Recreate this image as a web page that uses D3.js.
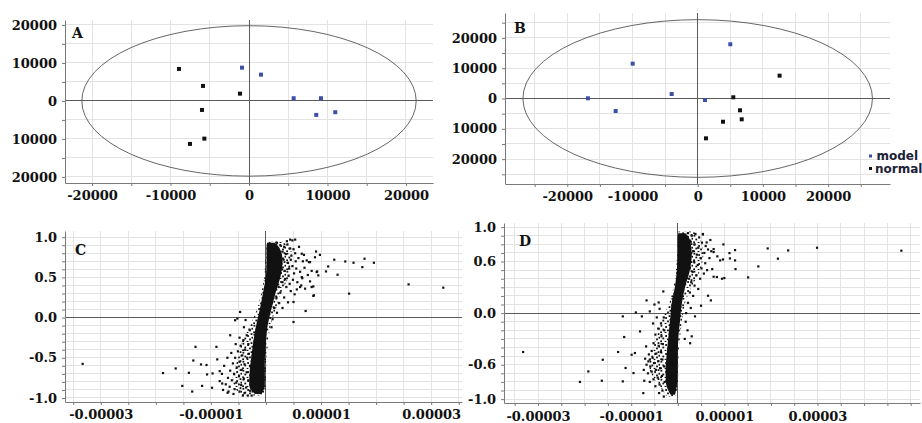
<!DOCTYPE html>
<html>
<head>
<meta charset="utf-8">
<script src="https://cdn.jsdelivr.net/npm/d3@7"></script>
<style>
  body { margin: 0; background: #fff; }
  svg { display: block; }
  .axis text { font-family: "DejaVu Serif", serif; font-weight: bold; font-size: 13px; fill: #111; }
  .axis path, .axis line { stroke: #7a7a7a; }
  .letter { font-family: "DejaVu Serif", serif; font-weight: bold; font-size: 14px; fill: #111; }
  .legend { font-family: "DejaVu Sans", sans-serif; font-weight: bold; font-size: 12px; fill: #1c2238; }
</style>
</head>
<body>
<svg id="svg" width="922" height="423"></svg>
<script>
const modelColor = '#3b50a6';
const normalColor = '#111';
const gridColor = '#e3e3e3';
const zeroColor = '#5a5a5a';
const ellipseColor = '#555';

// ---- score plots (A, B) ----
const scoreTicks = [-20000, -10000, 0, 10000, 20000];
const scoreXLabels = ['-20000', '-10000', '0', '10000', '20000'];
const scoreYLabels = ['20000', '10000', '0', '10000', '20000'];

const aModelX = [-890, 1530, 5690, 9170, 8570, 10990];
const aModelY = [8760, 6920, 710, 710, -3680, -2970];
const aNormalX = [-8920, -5860, -1150, -5990, -5690, -7520];
const aNormalY = [8420, 3950, 1920, -2370, -9920, -11320];
const aEllipse = [21300, 19800];

const bModelX = [-16830, -12580, -9970, -3990, 1120, 5000];
const bModelY = [70, -4130, 11490, 1490, -500, 17890];
const bNormalX = [12560, 5460, 6490, 6750, 3880, 1270];
const bNormalY = [7530, 400, -3890, -6870, -7660, -13140];
const bEllipse = [26800, 26000];

const legendLabels = ['model', 'normal'];

// ---- loading S-plots (C, D), x in units of 1e-6 ----
const xUnit = 1e-6;
const sXTicks = [-3e-5, -1e-5, 1e-5, 3e-5];
const sXLabels = ['-0.00003', '-0.00001', '0.00001', '0.00003'];
const cYTicks = [-1, -0.5, 0, 0.5, 1];
const cYLabels = ['-1.0', '-0.5', '0.0', '0.5', '1.0'];
const dYTicks = [-1, -0.6, 0, 0.6, 1];
const dYLabels = ['-1.0', '-0.6', '0.0', '0.6', '1.0'];

// solid core of the cloud: p(corr) level, left and right edge
const cCoreY = [0.93, 0.86, 0.73, 0.53, 0.32, 0.11, -0.10, -0.30, -0.51, -0.72, -0.88, -0.95];
const cCoreL = [0.2, 0.1, 0.1, 0.0, -0.5, -1.1, -1.8, -2.3, -2.7, -3.0, -2.9, -2.0];
const cCoreR = [1.6, 2.5, 3.0, 2.7, 1.8, 1.0, 0.3, 0.0, -0.2, -0.2, -0.3, -0.8];
// looser fringe around it
const cHaloY = [0.95, 0.85, 0.73, 0.52, 0.32, 0.11, -0.10, -0.30, -0.51, -0.72, -0.88, -0.97];
const cHaloL = [0.1, 0.0, -0.1, -0.3, -0.8, -1.6, -2.9, -4.4, -5.1, -6.0, -5.6, -4.2];
const cHaloR = [3.0, 4.5, 4.6, 4.2, 2.8, 1.8, 0.8, 0.4, 0.1, 0.0, -0.1, -0.6];

const dCoreY = [0.93, 0.88, 0.70, 0.50, 0.31, 0.12, -0.08, -0.27, -0.46, -0.66, -0.85, -0.95];
const dCoreL = [0.1, 0.0, 0.0, -0.2, -0.6, -1.3, -1.65, -2.0, -2.35, -2.6, -2.4, -1.5];
const dCoreR = [1.6, 2.4, 3.0, 2.6, 1.6, 0.9, 0.5, 0.15, 0.0, -0.05, -0.2, -0.6];
const dHaloY = [0.95, 0.85, 0.70, 0.50, 0.31, 0.12, -0.08, -0.27, -0.46, -0.66, -0.85, -0.97];
const dHaloL = [0.1, 0.0, -0.1, -0.4, -0.9, -1.8, -3.4, -4.5, -5.6, -6.0, -3.8, -2.4];
const dHaloR = [3.5, 4.8, 5.5, 4.8, 3.0, 1.6, 1.0, 0.5, 0.2, 0.1, 0.0, -0.5];

const cPoints = [
  [-33.3,-0.576],[-18.7,-0.69],[-16.4,-0.633],[-15.2,-0.85],[-14.0,-0.687],[-13.4,-0.92],
  [-13.2,-0.534],[-12.8,-0.364],[-11.8,-0.583],[-11.6,-0.85],[-10.8,-0.59],[-10.7,-0.707],
  [-9.8,-0.873],[-9.7,-0.695],[-9.0,-0.364],[-8.85,-0.52],[-8.4,-0.666],[-7.95,-0.82],
  [-6.97,-0.935],[-6.5,-0.22],[-5.6,-0.033],[-5.2,-0.012],[-4.7,0.07],
  [32.2,0.372],[25.9,0.413],[19.6,0.682],[17.9,0.732],[17.5,0.628],[15.9,0.682],[15.1,0.298],
  [14.4,0.698],[12.4,0.72],[13.0,0.533],[11.3,0.636],[10.9,0.574],[9.8,0.78],[9.1,0.822],
  [9.3,0.574],[8.6,0.388],[8.7,0.277],[7.2,0.082],[5.0,-0.055],[5.0,0.194],[6.5,0.794],
  [6.5,0.504],[7.4,0.711],[4.4,0.97],[4.8,0.96],[5.3,0.97],[8.0,0.69],[8.9,0.75],[9.2,0.566],
  [8.3,0.38],[6.2,0.38],[9.5,0.525],[8.6,0.27],
  [2.0,0.93],[2.6,0.90],[3.3,0.88],[3.9,0.91],[4.4,0.86],[3.0,0.82],[3.6,0.79],[4.6,0.77],
  [5.3,0.80],[5.9,0.74],[6.7,0.70],[3.2,0.72],[4.0,0.68],[4.8,0.64],[5.5,0.61],[6.2,0.57],
  [7.0,0.62],[7.6,0.53],[3.4,0.58],[4.1,0.52],[4.9,0.47],[5.7,0.44],[6.4,0.40],[7.1,0.36],
  [3.0,0.44],[3.7,0.38],[4.5,0.33],[5.2,0.29],[2.6,0.31],[3.3,0.25],[4.0,0.19],[2.4,0.18],
  [3.0,0.12],[2.0,0.06],[4.5,0.72],[5.0,0.85],[2.9,0.60],[3.8,0.95],[6.0,0.88],[6.9,0.78],
  [7.8,0.69],[8.3,0.58],[5.6,0.35],[4.3,0.42],[2.8,0.67],[2.5,0.80],[3.5,0.48],[4.2,0.61],
  [5.1,0.55],[2.2,0.50],[2.3,0.38],[1.9,0.25],[1.5,0.12],[1.2,-0.02],[1.0,-0.12],[6.6,0.49],
  [8.0,0.45],[5.4,0.70],
  [-3.0,-0.15],[-3.5,-0.22],[-4.1,-0.28],[-3.2,-0.33],[-4.6,-0.35],[-3.8,-0.40],[-5.1,-0.42],
  [-4.3,-0.47],[-3.4,-0.50],[-5.6,-0.50],[-4.8,-0.55],[-3.9,-0.58],[-6.0,-0.57],[-5.3,-0.62],
  [-4.4,-0.65],[-3.5,-0.68],[-6.5,-0.66],[-5.8,-0.70],[-4.9,-0.73],[-4.0,-0.76],[-6.9,-0.75],
  [-6.2,-0.78],[-5.4,-0.81],[-4.5,-0.84],[-3.6,-0.87],[-7.3,-0.83],[-6.6,-0.86],[-5.7,-0.89],
  [-4.8,-0.92],[-3.9,-0.94],[-7.6,-0.60],[-8.0,-0.70],[-7.0,-0.50],[-6.3,-0.44],[-5.5,-0.33],
  [-4.8,-0.25],[-4.0,-0.12],[-3.7,-0.03],[-2.9,-0.91],[-3.2,-0.78],[-2.9,-0.60],[-3.1,-0.45],
  [-5.9,-0.95],[-6.8,-0.92],[-8.4,-0.79],[-7.8,-0.90],[-4.2,-0.97],[-3.3,-0.97],[-2.6,-0.97]
];

const dPoints = [
  [-33.2,-0.452],[-21.0,-0.80],[-19.2,-0.678],[-16.3,-0.786],[-16.1,-0.542],[-12.8,-0.452],
  [-11.8,-0.794],[-11.5,-0.278],[-11.8,-0.038],[-11.2,-0.638],[-9.9,-0.484],[-9.5,-0.697],
  [-9.2,-0.464],[-9.0,0.008],[-8.1,-0.213],[-7.7,-0.038],[-7.4,-0.93],[-7.2,-0.786],
  [-6.8,-0.387],[-6.7,0.148],[-6.3,-0.561],[-6.0,0.02],[-3.1,0.252],[-4.1,0.124],
  [48.0,0.726],[29.9,0.760],[23.7,0.729],[21.5,0.633],[19.3,0.752],[17.3,0.543],[15.1,0.415],
  [12.3,0.733],[12.3,0.613],[12.4,0.512],[11.1,0.698],[11.2,0.636],[9.8,0.799],[9.7,0.624],
  [10.0,0.408],[9.5,0.40],[8.4,0.42],[7.7,0.423],[7.7,0.745],[7.7,0.71],[8.5,0.66],[9.1,0.613],
  [7.4,0.512],[7.1,0.148],[6.5,0.202],[5.0,0.086],[5.4,0.915],[6.2,0.822],[3.7,-0.038],
  [3.0,-0.27],[2.65,-0.35],
  [2.2,0.93],[3.0,0.90],[3.8,0.92],[4.6,0.88],[2.8,0.83],[3.6,0.80],[4.4,0.76],[5.2,0.82],
  [6.0,0.78],[3.3,0.72],[4.1,0.68],[4.9,0.64],[5.7,0.70],[6.5,0.74],[3.5,0.60],[4.3,0.56],
  [5.1,0.52],[5.9,0.58],[3.2,0.48],[4.0,0.44],[4.8,0.40],[5.6,0.46],[2.9,0.36],[3.6,0.32],
  [4.4,0.28],[2.6,0.24],[3.3,0.20],[2.2,0.12],[2.8,0.06],[1.8,0.0],[2.4,0.66],[2.6,0.52],
  [2.4,0.40],[5.4,0.92],[7.0,0.85],[6.8,0.64],[6.3,0.50],[7.2,0.72],[1.7,-0.1],[2.1,-0.2],
  [1.5,-0.3],
  [-3.0,-0.05],[-3.6,-0.12],[-2.9,-0.2],[-4.2,-0.18],[-3.5,-0.27],[-4.8,-0.25],[-3.2,-0.36],
  [-4.1,-0.38],[-5.2,-0.35],[-3.6,-0.45],[-4.6,-0.47],[-5.6,-0.44],[-3.3,-0.54],[-4.2,-0.56],
  [-5.1,-0.58],[-6.0,-0.54],[-6.7,-0.60],[-3.8,-0.64],[-4.7,-0.66],[-5.6,-0.68],[-6.4,-0.70],
  [-3.4,-0.73],[-4.3,-0.75],[-5.2,-0.77],[-3.9,-0.83],[-4.8,-0.85],[-3.3,-0.90],[-4.0,-0.93],
  [-3.0,-0.97],[-5.9,-0.62],[-5.4,-0.52],[-7.0,-0.53],[-6.2,-0.48],[-2.9,-0.62],[-2.8,-0.80],
  [-4.5,-0.05],[-5.3,-0.12],[-5.0,0.1],[-3.9,0.05],[-7.3,-0.66],[-6.0,-0.80]
];

const svg = d3.select('#svg');

// speckle fill for the looser fringe of the cloud
const speckle = svg.append('defs')
  .append('pattern')
  .attr('id', 'speckle')
  .attr('patternUnits', 'userSpaceOnUse')
  .attr('width', 11)
  .attr('height', 9);
speckle.selectAll('rect')
  .data([[0.5, 0.8], [5.2, 2.1], [8.6, 0.2], [2.4, 4.6], [7.1, 5.5], [0.2, 7.4], [4.6, 7.9], [9.5, 3.8]])
  .join('rect')
  .attr('x', d => d[0])
  .attr('y', d => d[1])
  .attr('width', 1.8)
  .attr('height', 1.8)
  .attr('fill', normalColor);

const scoreGrid = d3.range(-25000, 25001, 5000);
const sGridX = d3.range(-35, 51, 5).map(d => d * xUnit);
const sGridY = d3.range(-10, 11).map(d => d / 10);

// panel A
const pa = drawFrame({
  left: 65, right: 433, top: 20, bottom: 183,
  xDomain: [-23440, 23440], yDomain: [-21600, 21300],
  gridX: scoreGrid, gridY: scoreGrid,
  xTicks: scoreTicks, xLabels: scoreXLabels, yTicks: scoreTicks, yLabels: scoreYLabels,
  letter: 'A', letterPos: [72, 38], pad: 8
});
drawEllipse(pa, aEllipse);
drawSquares(pa, aNormalX, aNormalY, normalColor, 4);
drawSquares(pa, aModelX, aModelY, modelColor, 4);

// panel B
const pb = drawFrame({
  left: 505, right: 890, top: 13, bottom: 184,
  xDomain: [-29550, 29490], yDomain: [-28200, 28200],
  gridX: scoreGrid, gridY: scoreGrid,
  xTicks: scoreTicks, xLabels: scoreXLabels, yTicks: scoreTicks, yLabels: scoreYLabels,
  letter: 'B', letterPos: [514, 33], pad: 8
});
drawEllipse(pb, bEllipse);
drawSquares(pb, bNormalX, bNormalY, normalColor, 4);
drawSquares(pb, bModelX, bModelY, modelColor, 4);

const legend = svg.append('g').attr('transform', 'translate(869,0)');
legend.selectAll('rect')
  .data(legendLabels)
  .join('rect')
  .attr('x', 0)
  .attr('y', (d, i) => 154.5 + i * 12.5)
  .attr('width', 3)
  .attr('height', 3)
  .attr('fill', (d, i) => i === 0 ? modelColor : normalColor);
legend.selectAll('text')
  .data(legendLabels)
  .join('text')
  .attr('class', 'legend')
  .attr('x', (d, i) => i === 0 ? 7.5 : 6)
  .attr('y', (d, i) => 160 + i * 12.5)
  .text(d => d);

// panel C
const pc = drawFrame({
  left: 65, right: 462, top: 231, bottom: 402,
  xDomain: [-3.65e-5, 3.56e-5], yDomain: [-1.05, 1.077],
  gridX: sGridX, gridY: sGridY,
  xTicks: sXTicks, xLabels: sXLabels, yTicks: cYTicks, yLabels: cYLabels,
  letter: 'C', letterPos: [75, 255], pad: 8
});
drawBand(pc, cHaloY, cHaloL, cHaloR, 'url(#speckle)');
drawBand(pc, cCoreY, cCoreL, cCoreR, normalColor);
drawDots(pc, cPoints);

// panel D
const pd = drawFrame({
  left: 504, right: 920, top: 223, bottom: 403,
  xDomain: [-3.73e-5, 5.2e-5], yDomain: [-1.045, 1.048],
  gridX: sGridX, gridY: sGridY,
  xTicks: sXTicks, xLabels: sXLabels, yTicks: dYTicks, yLabels: dYLabels,
  letter: 'D', letterPos: [519, 246], pad: 9
});
drawBand(pd, dHaloY, dHaloL, dHaloR, 'url(#speckle)');
drawBand(pd, dCoreY, dCoreL, dCoreR, normalColor);
drawDots(pd, dPoints);


function drawFrame(cfg) {
  const x = d3.scaleLinear().domain(cfg.xDomain).range([cfg.left, cfg.right]);
  const y = d3.scaleLinear().domain(cfg.yDomain).range([cfg.bottom, cfg.top]);
  const g = svg.append('g');
  const gx = cfg.gridX.filter(d => d >= cfg.xDomain[0] && d <= cfg.xDomain[1]);
  const gy = cfg.gridY.filter(d => d >= cfg.yDomain[0] && d <= cfg.yDomain[1]);

  g.append('g')
    .selectAll('line')
    .data(gx)
    .join('line')
    .attr('x1', d => x(d)).attr('x2', d => x(d))
    .attr('y1', cfg.top).attr('y2', cfg.bottom)
    .attr('stroke', gridColor)
    .attr('shape-rendering', 'crispEdges');
  g.append('g')
    .selectAll('line')
    .data(gy)
    .join('line')
    .attr('x1', cfg.left).attr('x2', cfg.right)
    .attr('y1', d => y(d)).attr('y2', d => y(d))
    .attr('stroke', gridColor)
    .attr('shape-rendering', 'crispEdges');

  // zero cross
  g.append('line')
    .attr('x1', x(0)).attr('x2', x(0)).attr('y1', cfg.top).attr('y2', cfg.bottom)
    .attr('stroke', zeroColor).attr('shape-rendering', 'crispEdges');
  g.append('line')
    .attr('x1', cfg.left).attr('x2', cfg.right).attr('y1', y(0)).attr('y2', y(0))
    .attr('stroke', zeroColor).attr('shape-rendering', 'crispEdges');

  // minor ticks and axis lines
  g.append('g')
    .attr('class', 'axis')
    .attr('transform', 'translate(0,' + cfg.bottom + ')')
    .call(d3.axisBottom(x).tickValues(gx).tickSize(3).tickSizeOuter(0).tickFormat(''));
  g.append('g')
    .attr('class', 'axis')
    .attr('transform', 'translate(' + cfg.left + ',0)')
    .call(d3.axisLeft(y).tickValues(gy).tickSize(3).tickSizeOuter(0).tickFormat(''));

  // labels
  g.append('g')
    .attr('class', 'axis')
    .attr('transform', 'translate(0,' + cfg.bottom + ')')
    .call(d3.axisBottom(x).tickValues(cfg.xTicks).tickSize(0).tickPadding(cfg.pad)
      .tickFormat((d, i) => cfg.xLabels[i]))
    .call(a => a.select('.domain').remove());
  g.append('g')
    .attr('class', 'axis')
    .attr('transform', 'translate(' + cfg.left + ',0)')
    .call(d3.axisLeft(y).tickValues(cfg.yTicks).tickSize(0).tickPadding(8)
      .tickFormat((d, i) => cfg.yLabels[i]))
    .call(a => a.select('.domain').remove());

  g.append('text')
    .attr('class', 'letter')
    .attr('x', cfg.letterPos[0])
    .attr('y', cfg.letterPos[1])
    .text(cfg.letter);

  return { g, x, y };
}

function drawEllipse(p, semi) {
  p.g.append('ellipse')
    .attr('cx', p.x(0))
    .attr('cy', p.y(0))
    .attr('rx', p.x(semi[0]) - p.x(0))
    .attr('ry', p.y(0) - p.y(semi[1]))
    .attr('fill', 'none')
    .attr('stroke', ellipseColor)
    .attr('stroke-width', 0.9);
}

function drawSquares(p, xs, ys, color, size) {
  p.g.append('g')
    .selectAll('rect')
    .data(xs.map((d, i) => [d, ys[i]]))
    .join('rect')
    .attr('x', d => p.x(d[0]) - size / 2)
    .attr('y', d => p.y(d[1]) - size / 2)
    .attr('width', size)
    .attr('height', size)
    .attr('fill', color);
}

function drawBand(p, ys, ls, rs, fill) {
  const area = d3.area()
    .curve(d3.curveCatmullRom)
    .y(d => p.y(d[0]))
    .x0(d => p.x(d[1] * xUnit))
    .x1(d => p.x(d[2] * xUnit));
  p.g.append('path')
    .attr('d', area(ys.map((d, i) => [d, ls[i], rs[i]])))
    .attr('fill', fill);
}

function drawDots(p, pts) {
  p.g.append('g')
    .selectAll('rect')
    .data(pts)
    .join('rect')
    .attr('x', d => p.x(d[0] * xUnit) - 1.1)
    .attr('y', d => p.y(d[1]) - 1.1)
    .attr('width', 2.2)
    .attr('height', 2.2)
    .attr('fill', normalColor);
}
</script>
</body>
</html>
